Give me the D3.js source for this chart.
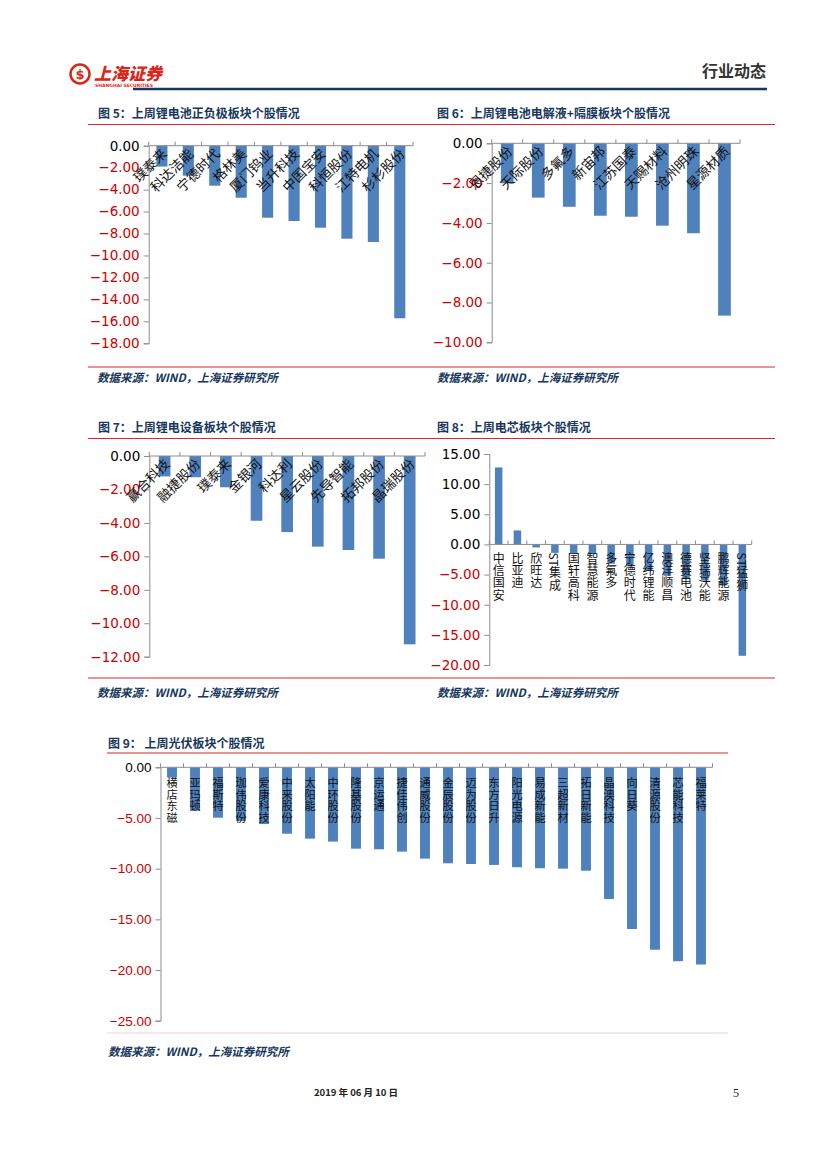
<!DOCTYPE html>
<html>
<head>
<meta charset="utf-8">
<script src="https://cdn.jsdelivr.net/npm/d3@7"></script>
<style>
  body { margin: 0; background: #fff; }
  svg text { font-family: "DejaVu Sans", sans-serif; }
</style>
</head>
<body>
<div id="page"></div>
<script>
// 图5 锂电池正负极
var c5Names = ["璞泰来", "科达洁能", "宁德时代", "格林美", "厦门钨业", "当升科技", "中国宝安", "科恒股份", "江特电机", "杉杉股份"];
var c5Values = [-1.90, -2.73, -3.64, -4.74, -6.56, -6.86, -7.47, -8.47, -8.77, -15.72];
var c5Ticks = [0, -2, -4, -6, -8, -10, -12, -14, -16, -18];

// 图6 电解液+隔膜
var c6Names = ["恩捷股份", "天际股份", "多氟多", "新宙邦", "江苏国泰", "天赐材料", "沧州明珠", "星源材质"];
var c6Values = [-2.01, -2.73, -3.19, -3.64, -3.69, -4.14, -4.52, -8.66];
var c6Ticks = [0, -2, -4, -6, -8, -10];

// 图7 锂电设备
var c7Names = ["赢合科技", "融捷股份", "璞泰来", "金银河", "科达利", "星云股份", "先导智能", "拓邦股份", "晶瑞股份"];
var c7Values = [-1.22, -1.27, -1.87, -3.87, -4.55, -5.42, -5.62, -6.14, -11.26];
var c7Ticks = [0, -2, -4, -6, -8, -10, -12];

// 图8 电芯
var c8Names = ["中信国安", "比亚迪", "欣旺达", "ST集成", "国轩高科", "智慧能源", "多氟多", "宁德时代", "亿纬锂能", "澳洋顺昌", "德赛电池", "坚瑞沃能", "鹏辉能源", "ST猛狮"];
var c8Values = [12.77, 2.32, -0.50, -1.40, -1.50, -1.60, -3.19, -3.64, -4.40, -5.20, -5.60, -6.00, -6.80, -18.47];
var c8Ticks = [15, 10, 5, 0, -5, -10, -15, -20];

// 图9 光伏
var c9Names = ["横店东磁", "亚玛顿", "福斯特", "珈伟股份", "爱康科技", "中来股份", "太阳能", "中环股份", "隆基股份", "京运通", "捷佳伟创", "通威股份", "金辰股份", "迈为股份", "东方日升", "阳光电源", "易成新能", "三超新材", "拓日新能", "晶澳科技", "向日葵", "清源股份", "芯能科技", "福莱特"];
var c9Values = [-1.00, -4.30, -4.97, -5.30, -5.60, -6.55, -7.04, -7.33, -8.03, -8.09, -8.32, -9.01, -9.47, -9.54, -9.63, -9.86, -9.96, -10.00, -10.20, -12.99, -15.95, -18.00, -19.13, -19.46];
var c9Ticks = [0, -5, -10, -15, -20, -25];

var W = 827, H = 1169;
var navy = "#17375e", red = "#cc0000", barColor = "#4f81bd", axisColor = "#8c8c8c";
var cjk = "Noto Sans CJK SC";

var svg = d3.select("#page").append("svg")
    .attr("width", W)
    .attr("height", H);

// header
svg.append("circle").attr("cx", 80).attr("cy", 74).attr("r", 9.5)
    .attr("fill", "none").attr("stroke", "#d9261c").attr("stroke-width", 2.5);
svg.append("text").attr("x", 80).attr("y", 79).attr("text-anchor", "middle")
    .attr("fill", "#d9261c").style("font-size", "13px").style("font-weight", "bold").text("$");
svg.append("text").attr("x", 94).attr("y", 80)
    .attr("fill", "#d9261c").style("font-family", cjk).style("font-size", "17px")
    .style("font-weight", "900").style("font-style", "italic").text("上海证券");
svg.append("text").attr("x", 95).attr("y", 87)
    .attr("fill", "#d9261c").style("font-size", "4.5px").style("font-weight", "bold").text("SHANGHAI SECURITIES");
svg.append("text").attr("x", 766).attr("y", 77).attr("text-anchor", "end")
    .attr("fill", "#333").style("font-family", cjk).style("font-size", "16px")
    .style("font-weight", "bold").text("行业动态");
svg.append("line").attr("x1", 133).attr("x2", 767).attr("y1", 89).attr("y2", 89)
    .attr("stroke", navy).attr("stroke-width", 2.5);

function title(x, y, txt) {
    svg.append("text").attr("x", x).attr("y", y)
        .attr("fill", navy).style("font-family", cjk).style("font-size", "12px")
        .style("font-weight", "bold").text(txt);
}
function source(x, y) {
    svg.append("text").attr("x", x).attr("y", y)
        .attr("fill", navy).style("font-family", cjk).style("font-size", "11.5px")
        .style("font-weight", "bold").style("font-style", "italic").text("数据来源：WIND，上海证券研究所");
}
function hline(x1, x2, y, color, w) {
    svg.append("line").attr("x1", x1).attr("x2", x2).attr("y1", y).attr("y2", y)
        .attr("stroke", color).attr("stroke-width", w);
}

title(98, 118, "图 5：上周锂电池正负极板块个股情况");
title(437, 118, "图 6：上周锂电池电解液+隔膜板块个股情况");
hline(88, 775, 124.5, "#d9262e", 1.2);
hline(88, 775, 367, "#d9262e", 1);
source(97, 382);
source(437, 382);

title(98, 432, "图 7：上周锂电设备板块个股情况");
title(437, 432, "图 8：上周电芯板块个股情况");
hline(88, 775, 438.5, "#d9262e", 1.2);
hline(88, 775, 678, "#d9262e", 1);
source(97, 697);
source(437, 697);

title(108, 748, "图 9：  上周光伏板块个股情况");
hline(107, 728, 753, "#e07070", 1.5);
hline(107, 728, 1033, "#f6d0d0", 1.2);
source(108, 1056);

svg.append("text").attr("x", 356).attr("y", 1096).attr("text-anchor", "middle")
    .attr("fill", "#222").style("font-family", cjk).style("font-size", "9.5px")
    .style("font-weight", "bold").text("2019 年 06 月 10 日");
svg.append("text").attr("x", 736).attr("y", 1097).attr("text-anchor", "middle")
    .attr("fill", "#222").style("font-family", "Liberation Serif").style("font-size", "12px").text("5");

function drawChart(o) {
    var g = svg.append("g");
    var x = d3.scaleBand().domain(o.names).range([o.x0, o.x1]).paddingInner(o.pad).paddingOuter(o.pad / 2);
    var y = d3.scaleLinear().domain([o.ticks[0], o.ticks[o.ticks.length - 1]]).range([o.yTop, o.yBottom]);

    var yAxis = d3.axisLeft(y).tickValues(o.ticks).tickSize(5).tickPadding(4).tickFormat(d3.format(".2f"));
    var ya = g.append("g").attr("transform", "translate(" + o.x0 + ",0)").call(yAxis);
    ya.select(".domain").attr("stroke", axisColor);
    ya.selectAll(".tick line").attr("stroke", axisColor);
    ya.selectAll(".tick text")
        .style("font-family", o.tickFont)
        .style("font-size", o.tickSize + "px")
        .attr("fill", function(d){ return d < 0 ? red : "#000"; });

    g.selectAll("rect.bar").data(o.values).enter().append("rect")
        .attr("class", "bar")
        .attr("x", function(d, i){ return x(o.names[i]); })
        .attr("width", x.bandwidth())
        .attr("y", function(d){ return y(Math.max(0, d)); })
        .attr("height", function(d){ return Math.abs(y(d) - y(0)); })
        .attr("fill", barColor);

    // category axis at zero
    var y0 = y(0);
    g.append("line").attr("x1", o.x0).attr("x2", o.x1).attr("y1", y0).attr("y2", y0)
        .attr("stroke", axisColor);
    var step = (o.x1 - o.x0) / o.names.length;
    d3.range(o.names.length + 1).forEach(function(i){
        g.append("line").attr("x1", o.x0 + i * step).attr("x2", o.x0 + i * step)
            .attr("y1", y0).attr("y2", y0 - 4).attr("stroke", axisColor);
    });

    var cx = function(i){ return x(o.names[i]) + x.bandwidth() / 2; };
    if (o.vertical) {
        // vertical text: CJK upright, latin turned sideways
        g.selectAll("text.cat").data(o.names).enter().append("text")
            .attr("class", "cat")
            .attr("x", function(d, i){ return cx(i); })
            .attr("y", y0 + o.labelGap)
            .attr("writing-mode", "vertical-rl")
            .style("text-orientation", "mixed")
            .style("letter-spacing", o.labelSpacing + "px")
            .style("font-family", cjk)
            .style("font-size", o.labelSize + "px")
            .attr("fill", "#111")
            .text(function(d){ return d; });
    } else {
        g.selectAll("text.cat").data(o.names).enter().append("text")
            .attr("class", "cat")
            .attr("text-anchor", "end")
            .attr("transform", function(d, i){
                return "translate(" + (cx(i) + 6) + "," + (y0 + 9) + ") rotate(-45)";
            })
            .style("font-family", cjk)
            .style("font-size", o.labelSize + "px")
            .attr("fill", "#111")
            .text(function(d){ return d; });
    }
}

drawChart({ names: c5Names, values: c5Values, ticks: c5Ticks, x0: 148.7, x1: 413, yTop: 145.7, yBottom: 343.3,
    pad: 0.58, tickFont: "DejaVu Sans", tickSize: 13.5, labelSize: 13.5 });
drawChart({ names: c6Names, values: c6Values, ticks: c6Ticks, x0: 491.7, x1: 740, yTop: 143.3, yBottom: 342.3,
    pad: 0.59, tickFont: "DejaVu Sans", tickSize: 13.5, labelSize: 13.5 });
drawChart({ names: c7Names, values: c7Values, ticks: c7Ticks, x0: 149.3, x1: 425, yTop: 456, yBottom: 656.7,
    pad: 0.62, tickFont: "DejaVu Sans", tickSize: 13.5, labelSize: 13.5 });
drawChart({ names: c8Names, values: c8Values, ticks: c8Ticks, x0: 489.3, x1: 751.7, yTop: 454, yBottom: 665,
    pad: 0.6, tickFont: "DejaVu Sans", tickSize: 13.5, labelSize: 12, labelSpacing: 0.2, vertical: true, labelGap: 8 });
drawChart({ names: c9Names, values: c9Values, ticks: c9Ticks, x0: 160.5, x1: 712.5, yTop: 767.3, yBottom: 1020.7,
    pad: 0.57, tickFont: "Liberation Sans", tickSize: 13.5, labelSize: 11.2, labelSpacing: 0.4, vertical: true, labelGap: 10 });
</script>
</body>
</html>
